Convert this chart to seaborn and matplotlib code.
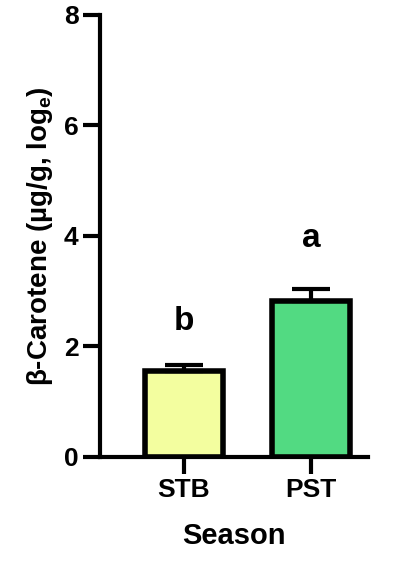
import matplotlib
matplotlib.use("Agg")
import matplotlib.pyplot as plt
import seaborn as sns
import pandas as pd

seasons = ["STB", "PST"]
means = [1.55, 2.82]
errs = [0.12, 0.21]
letters = ["b", "a"]
colors = ["#f3fe9f", "#52da82"]

sns.set_style("ticks")
plt.rcParams['font.family'] = ['Liberation Sans', 'DejaVu Sans']
plt.rcParams['text.color'] = 'black'
plt.rcParams['axes.labelcolor'] = 'black'
plt.rcParams['xtick.color'] = 'black'
plt.rcParams['ytick.color'] = 'black'
plt.rcParams['axes.edgecolor'] = 'black'
fig = plt.figure(figsize=(4, 5.71), dpi=100)
ax = fig.add_axes([0.25, 0.2, 0.67, 0.774])
df = pd.DataFrame({"Season": seasons, "val": means})
sns.barplot(data=df, x="Season", y="val", hue="Season", palette=colors, width=0.61,
            saturation=1, edgecolor="black", linewidth=4, ax=ax, legend=False, errorbar=None)
for i, (m, e) in enumerate(zip(means, errs)):
    ax.errorbar(i, m, yerr=[[0], [e]], color="black", capsize=14, capthick=3, elinewidth=3)
for i, l in enumerate([2.45, 3.95]):
    ax.text(i, l, letters[i], ha="center", va="center", fontsize=24, fontweight="bold", color="black")
ax.set_xlim(-0.66, 1.45)
ax.set_ylim(0, 8)
ax.set_yticks([0, 2, 4, 6, 8])
ax.set_ylabel("β-Carotene (µg/g, log$_\\mathregular{e}$)", fontsize=20, fontweight="bold", labelpad=6)
ax.set_xlabel("Season", fontsize=21, fontweight="bold", labelpad=14)
for s in ["left", "bottom"]:
    ax.spines[s].set_linewidth(3)
sns.despine(ax=ax)
ax.tick_params(width=3, length=12, labelsize=19)
for t in ax.get_xticklabels() + ax.get_yticklabels():
    t.set_fontweight("bold")
fig.savefig("out.png", dpi=100)
